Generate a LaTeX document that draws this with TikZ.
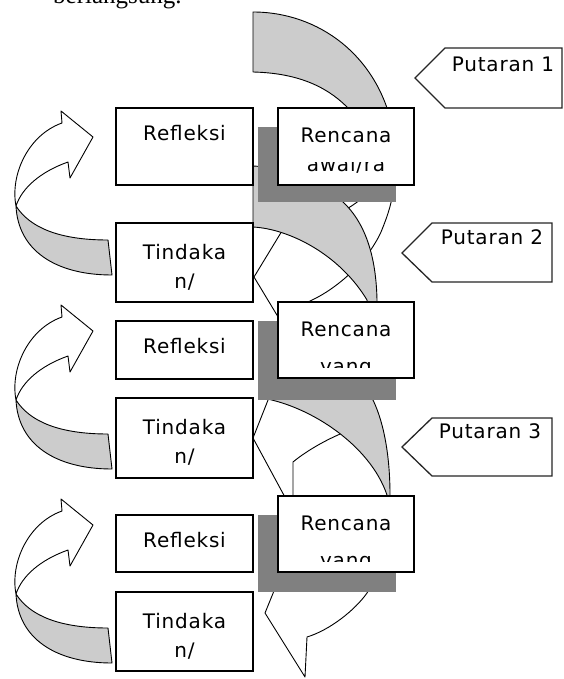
\documentclass[tikz,border=0pt]{standalone}
\usepackage{fontspec}
\newfontfamily\boxfont[LetterSpace=4]{DejaVu Sans}
\newfontfamily\pagefont{Liberation Serif}
\definecolor{bandgray}{RGB}{204,204,204}
\definecolor{shadowgray}{RGB}{128,128,128}
\tikzset{
  box/.style={draw, fill=white, line width=1.3pt, inner sep=0pt, minimum width=137pt},
  lbl/.style={font=\boxfont\fontsize{20}{24}\selectfont, inner sep=0pt, anchor=base},
  backband/.style={draw, fill=bandgray, line width=0.9pt, line join=round},
  frontband/.style={draw, fill=white, line width=0.9pt, line join=round},
  shadowbox/.style={fill=shadowgray},
  tag/.style={draw=black!85, fill=white, line width=1.3pt},
}
\begin{document}
\begin{tikzpicture}[x=1pt, y=-1pt]
\useasboundingbox (0,0) rectangle (564,679);
\node[font=\pagefont\fontsize{25}{30}\selectfont, inner sep=0pt, anchor=base west] (cont) at (53,4) {berlangsung.};

% putaran 1
\draw[frontband] (372,185) .. controls (362,205) and (330,222) .. (285,226) -- (254,277) -- (295,345) -- (300,305) .. controls (330,295) and (366,265) .. (381,232) .. controls (388,215) and (393,200) .. (394,182) -- cycle;
\draw[backband] (253,12) .. controls (318,12) and (378,55) .. (393,130) .. controls (396,150) and (396,165) .. (394,182) -- (372,185) .. controls (370,150) and (362,125) .. (347,107) .. controls (325,85) and (295,73) .. (253,72) -- cycle;
% putaran 2
\draw[frontband] (378,372) .. controls (350,385) and (300,392) .. (272,390) -- (253,438) -- (293,512) -- (293,462) .. controls (305,452) and (325,440) .. (345,432) .. controls (358,425) and (366,412) .. (370,398) -- (392,372) -- cycle;
\draw[backband] (253,166) .. controls (290,168) and (315,178) .. (330,192) .. controls (362,212) and (376,250) .. (377,300) .. controls (378,330) and (380,350) .. (382,372) -- (372,372) .. controls (371,340) and (370,320) .. (367,300) .. controls (340,255) and (290,229) .. (253,227) -- cycle;
% putaran 3
\draw[frontband] (380,560) .. controls (350,575) and (300,585) .. (276,586) -- (265,613) -- (305,677) -- (307,637) .. controls (330,630) and (355,610) .. (367,593) .. controls (375,580) and (385,570) .. (392,560) -- cycle;
\draw[backband] (262,360) .. controls (320,358) and (358,375) .. (373,400) .. controls (385,425) and (390,460) .. (390,495) .. controls (390,510) and (391,525) .. (392,540) -- (388,540) .. controls (388,520) and (388,505) .. (387,495) .. controls (370,445) and (310,406) .. (262,398) -- cycle;

\fill[shadowbox] (258,127) rectangle (396,202);
\fill[shadowbox] (258,321) rectangle (396,400);
\fill[shadowbox] (258,515) rectangle (396,592);

\node[box, minimum height=77pt] (ref1) at (184.5,146.5) {};
\node[box, minimum height=79pt] (tin1) at (184.5,262.5) {};
\node[box, minimum height=58pt] (ref2) at (184.5,350) {};
\node[box, minimum height=80pt] (tin2) at (184.5,438) {};
\node[box, minimum height=57pt] (ref3) at (184.5,543.5) {};
\node[box, minimum height=79pt] (tin3) at (184.5,631.5) {};
\node[box, minimum width=136pt, minimum height=77pt] (ren1) at (346,146.5) {};
\node[box, minimum width=136pt, minimum height=76pt] (ren2) at (346,340) {};
\node[box, minimum width=136pt, minimum height=76pt] (ren3) at (346,534) {};

\node[lbl] (ref1t) at ([yshift=-33pt]ref1.north) {Refleksi};
\node[lbl] (ref2t) at ([yshift=-33pt]ref2.north) {Refleksi};
\node[lbl] (ref3t) at ([yshift=-33pt]ref3.north) {Refleksi};
\node[lbl] (tin1t) at ([yshift=-37pt]tin1.north) {Tindaka};
\node[lbl] (tin1u) at ([yshift=-66pt]tin1.north) {n/};
\node[lbl] (tin2t) at ([yshift=-37pt]tin2.north) {Tindaka};
\node[lbl] (tin2u) at ([yshift=-66pt]tin2.north) {n/};
\node[lbl] (tin3t) at ([yshift=-37pt]tin3.north) {Tindaka};
\node[lbl] (tin3u) at ([yshift=-66pt]tin3.north) {n/};
\node[lbl] (ren1t) at ([yshift=-35pt]ren1.north) {Rencana};
\node[lbl] (ren2t) at ([yshift=-35pt]ren2.north) {Rencana};
\node[lbl] (ren3t) at ([yshift=-35pt]ren3.north) {Rencana};
\begin{scope}
  \clip (278,163) rectangle (414,173);
  \node[lbl] (ren1u) at ([yshift=-64pt]ren1.north) {awal/ra};
\end{scope}
\begin{scope}
  \clip (278,361) rectangle (414,367);
  \node[lbl] (ren2u) at ([yshift=-72pt]ren2.north) {yang};
\end{scope}
\begin{scope}
  \clip (278,555) rectangle (414,561);
  \node[lbl] (ren3u) at ([yshift=-72pt]ren3.north) {yang};
\end{scope}

\draw[tag] (415,78) -- (445,48) -- (562,48) -- (562,108) -- (445,108) -- cycle;
\node[lbl] (put1) at (503,72) {Putaran 1};
\draw[tag] (402,253) -- (432,223) -- (552,223) -- (552,282) -- (432,282) -- cycle;
\node[lbl] (put2) at (492,244) {Putaran 2};
\draw[tag] (402,447) -- (432,418) -- (552,418) -- (552,476) -- (432,476) -- cycle;
\node[lbl] (put3) at (490,438) {Putaran 3};

\foreach \dy in {0,194,388}{
  \begin{scope}[shift={(0,\dy)}]
    \draw[backband] (16,206) .. controls (30,228) and (60,240) .. (108,240) -- (112,275) .. controls (55,275) and (18,250) .. (16,206) -- cycle;
    \draw[frontband] (16,206) .. controls (10,175) and (28,135) .. (62,123) -- (61,111) -- (93,137) -- (70,178) -- (68,162) .. controls (40,172) and (22,188) .. (16,206) -- cycle;
  \end{scope}
}
\end{tikzpicture}
\end{document}
